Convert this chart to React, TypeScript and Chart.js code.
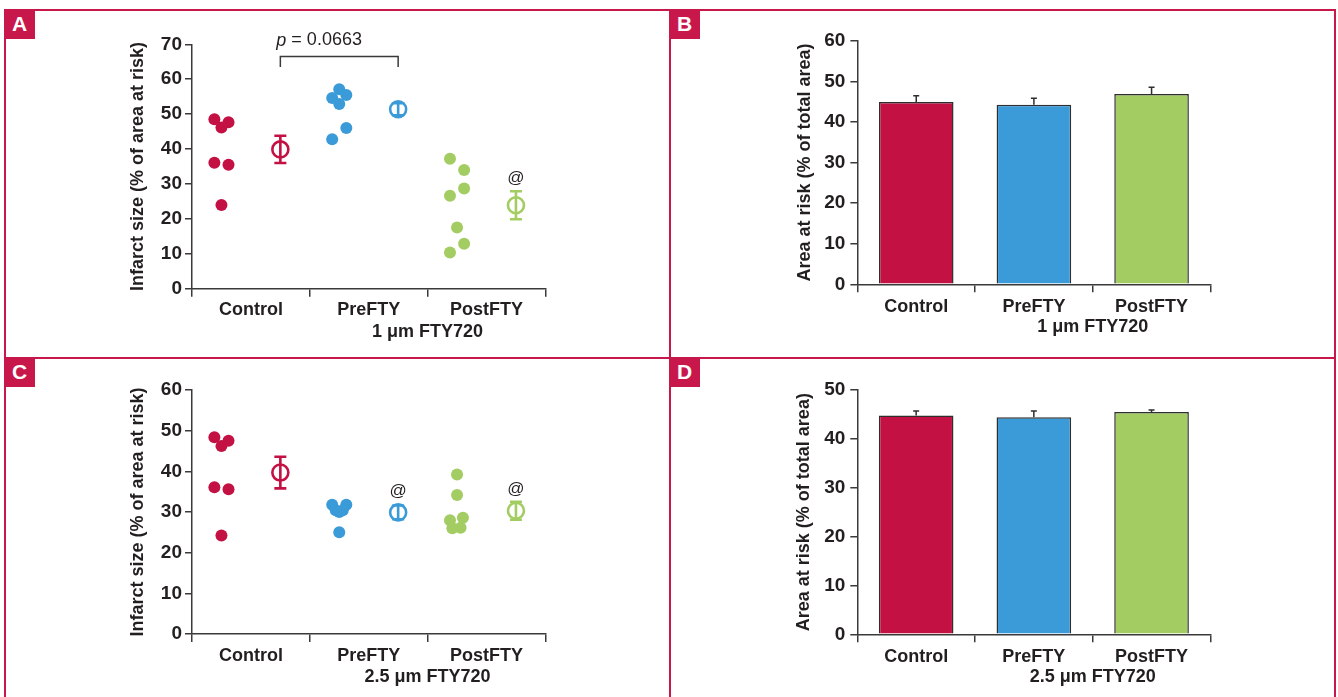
import React, { useEffect, useRef } from 'react';
import { Chart, registerables } from 'chart.js';

Chart.register(...registerables);

const FONT = "'Liberation Sans', Arial, Helvetica, sans-serif";
const TEXT = '#231f20';
const AXIS = '#3a3a3a';
const FRAME = '#c8174a';

const categories = ['Control', 'PreFTY', 'PostFTY'];
const groupColors = ['#c41144', '#3a9bd8', '#a3cd62'];
const meanX = [0.75, 1.75, 2.75];

// Panel A: 1 µm FTY720 – infarct size, individual hearts
const aControlY = [48.5, 47.7, 46.2, 36.1, 35.5, 24.0];
const aControlX = [0.19, 0.31, 0.25, 0.19, 0.31, 0.25];
const aPreY = [57.1, 54.6, 55.5, 52.9, 46.0, 42.8];
const aPreX = [1.25, 1.19, 1.31, 1.25, 1.31, 1.19];
const aPostY = [37.2, 34.0, 28.7, 26.6, 17.5, 12.9, 10.4];
const aPostX = [2.19, 2.31, 2.31, 2.19, 2.25, 2.31, 2.19];
const aMeans = [39.9, 51.4, 23.9];
const aSem = [3.9, 1.7, 4.0];
const aMarks = ['', '', '@'];
const aYMax = 70;
const aSubLabel = '1 \u03bcm FTY720';
const aBracketPair = [0, 1];
const aBracketY = 66.5;
const aBracketDrop = 3;
const aPValue = '0.0663';

// Panel B: 1 µm FTY720 – area at risk
const bValues = [44.9, 44.2, 46.9];
const bErrors = [1.55, 1.6, 1.65];
const bYMax = 60;

// Panel C: 2.5 µm FTY720 – infarct size, individual hearts
const cControlY = [48.4, 47.5, 46.2, 36.1, 35.6, 24.2];
const cControlX = [0.19, 0.31, 0.25, 0.19, 0.31, 0.25];
const cPreY = [31.8, 31.8, 30.4, 30.4, 30.0, 25.0];
const cPreX = [1.19, 1.31, 1.22, 1.28, 1.25, 1.25];
const cPostY = [39.2, 34.2, 28.0, 28.6, 26.0, 26.1];
const cPostX = [2.25, 2.25, 2.19, 2.30, 2.21, 2.28];
const cMeans = [39.7, 29.9, 30.3];
const cSem = [3.9, 1.7, 2.2];
const cMarks = ['', '@', '@'];
const cYMax = 60;
const cSubLabel = '2.5 \u03bcm FTY720';

// Panel D: 2.5 µm FTY720 – area at risk
const dValues = [44.8, 44.4, 45.5];
const dErrors = [0.9, 1.3, 0.4];
const dYMax = 50;

const yTitleInfarct = 'Infarct size (% of area at risk)';
const yTitleArea = 'Area at risk (% of total area)';

const boldFont = (size = 18) => ({ family: FONT, size, weight: 'bold' as any });

function yScale(yMax: number, title: string, L: any, tickPad: number) {
  return {
    type: 'linear',
    min: 0,
    max: yMax,
    ticks: { stepSize: 10, padding: tickPad, color: TEXT, font: boldFont(19) },
    grid: { drawOnChartArea: false, drawTicks: true, tickLength: 7, lineWidth: 1.5, color: AXIS },
    border: { display: true, color: AXIS, width: 1.5 },
    title: {
      display: true,
      text: title,
      color: TEXT,
      font: boldFont(18),
      padding: { top: L.titleCenter - 10.8, bottom: 0 },
    },
    afterFit: (s: any) => {
      s.width = L.yWidth;
    },
  };
}

function subLabelPlugin(text: string, value: number) {
  return {
    id: 'subLabel',
    afterDraw(chart: any) {
      const { ctx, chartArea } = chart;
      const x = chart.scales.x.getPixelForValue(value);
      ctx.save();
      ctx.fillStyle = TEXT;
      ctx.font = `bold 18px ${FONT}`;
      ctx.textAlign = 'center';
      ctx.textBaseline = 'middle';
      ctx.fillText(text, x, chartArea.bottom + 43);
      ctx.restore();
    },
  };
}

function makeScatter(spec: any) {
  const datasets: any[] = spec.ys.map((ys: number[], g: number) => ({
    data: ys.map((y, i) => ({ x: spec.xs[g][i], y })),
    pointBackgroundColor: groupColors[g],
    pointBorderColor: groupColors[g],
    pointBorderWidth: 0,
    pointRadius: 6,
    pointHoverRadius: 6,
    showLine: false,
  }));
  datasets.push({
    data: spec.means.map((m: number, i: number) => ({ x: meanX[i], y: m })),
    pointBackgroundColor: '#ffffff',
    pointBorderColor: groupColors,
    pointBorderWidth: 2.6,
    pointRadius: 8,
    pointHoverRadius: 8,
    showLine: false,
  });
  const L = spec.layout;
  const overlay = {
    id: 'overlay',
    afterDatasetsDraw(chart: any) {
      const { ctx } = chart;
      const xs = chart.scales.x;
      const ys = chart.scales.y;
      ctx.save();
      spec.means.forEach((m: number, i: number) => {
        const x = xs.getPixelForValue(meanX[i]);
        const yT = ys.getPixelForValue(m + spec.sem[i]);
        const yB = ys.getPixelForValue(m - spec.sem[i]);
        ctx.strokeStyle = groupColors[i];
        ctx.lineWidth = 2.6;
        ctx.beginPath();
        ctx.moveTo(x, yT);
        ctx.lineTo(x, yB);
        ctx.moveTo(x - 6, yT);
        ctx.lineTo(x + 6, yT);
        ctx.moveTo(x - 6, yB);
        ctx.lineTo(x + 6, yB);
        ctx.stroke();
        if (spec.marks[i]) {
          const yc = Math.min(yT, ys.getPixelForValue(m) - 8) - 13;
          ctx.fillStyle = TEXT;
          ctx.font = `17px ${FONT}`;
          ctx.textAlign = 'center';
          ctx.textBaseline = 'middle';
          ctx.fillText(spec.marks[i], x, yc);
        }
      });
      if (spec.bracket) {
        const b = spec.bracket;
        const x1 = xs.getPixelForValue(meanX[b.pair[0]]);
        const x2 = xs.getPixelForValue(meanX[b.pair[1]]);
        const yl = ys.getPixelForValue(b.y);
        const yd = ys.getPixelForValue(b.y - b.drop);
        ctx.strokeStyle = AXIS;
        ctx.lineWidth = 1.5;
        ctx.beginPath();
        ctx.moveTo(x1, yd);
        ctx.lineTo(x1, yl);
        ctx.lineTo(x2, yl);
        ctx.lineTo(x2, yd);
        ctx.stroke();
        ctx.fillStyle = TEXT;
        ctx.textAlign = 'left';
        ctx.textBaseline = 'middle';
        const tx = x1 - 4;
        const ty = yl - 16;
        ctx.font = `italic 18px ${FONT}`;
        ctx.fillText('p', tx, ty);
        const w = ctx.measureText('p').width;
        ctx.font = `18px ${FONT}`;
        ctx.fillText(' = ' + b.p, tx + w, ty);
      }
      ctx.restore();
    },
  };
  return {
    type: 'scatter',
    data: { datasets },
    options: {
      responsive: false,
      animation: false,
      events: [],
      layout: { padding: { left: 0, top: L.top, right: L.right, bottom: 0 } },
      plugins: { legend: { display: false }, tooltip: { enabled: false } },
      scales: {
        x: {
          type: 'linear',
          min: 0,
          max: 3,
          ticks: {
            stepSize: 0.5,
            autoSkip: false,
            maxRotation: 0,
            minRotation: 0,
            padding: 3,
            color: TEXT,
            font: boldFont(18),
            callback: (v: number) => (v % 1 === 0.5 ? categories[Math.floor(v)] : ''),
          },
          grid: {
            drawOnChartArea: false,
            drawTicks: true,
            tickLength: 8,
            lineWidth: 1.5,
            color: (c: any) => (c.tick && c.tick.value % 1 !== 0 ? 'rgba(0,0,0,0)' : AXIS),
            tickColor: (c: any) => (c.tick && c.tick.value % 1 !== 0 ? 'rgba(0,0,0,0)' : AXIS),
          },
          border: { display: true, color: AXIS, width: 1.5 },
          afterFit: (s: any) => {
            s.height = L.xHeight;
          },
        },
        y: yScale(spec.yMax, yTitleInfarct, L, 3),
      },
    },
    plugins: [overlay, subLabelPlugin(spec.sub, 2)],
  };
}

function makeBar(spec: any) {
  const L = spec.layout;
  const errPlugin = {
    id: 'errBars',
    afterDatasetsDraw(chart: any) {
      const { ctx } = chart;
      const ys = chart.scales.y;
      const meta = chart.getDatasetMeta(0);
      ctx.save();
      ctx.strokeStyle = '#2e2e2e';
      ctx.lineWidth = 1.5;
      spec.values.forEach((v: number, i: number) => {
        const x = meta.data[i].x;
        const y0 = ys.getPixelForValue(v);
        const y1 = ys.getPixelForValue(v + spec.errors[i]);
        ctx.beginPath();
        ctx.moveTo(x, y0);
        ctx.lineTo(x, y1);
        ctx.moveTo(x - 3, y1);
        ctx.lineTo(x + 3, y1);
        ctx.stroke();
      });
      ctx.restore();
    },
  };
  return {
    type: 'bar',
    data: {
      labels: categories,
      datasets: [
        {
          data: spec.values,
          backgroundColor: groupColors,
          borderColor: '#2e2e2e',
          borderWidth: 1.5,
          categoryPercentage: 1,
          barPercentage: 0.634,
        },
      ],
    },
    options: {
      responsive: false,
      animation: false,
      events: [],
      layout: { padding: { left: 0, top: L.top, right: L.right, bottom: 0 } },
      plugins: { legend: { display: false }, tooltip: { enabled: false } },
      scales: {
        x: {
          type: 'category',
          offset: true,
          ticks: { autoSkip: false, maxRotation: 0, minRotation: 0, padding: 4, color: TEXT, font: boldFont(18) },
          grid: { offset: true, drawOnChartArea: false, drawTicks: true, tickLength: 8, lineWidth: 1.5, color: AXIS },
          border: { display: true, color: AXIS, width: 1.5 },
          afterFit: (s: any) => {
            s.height = L.xHeight;
          },
        },
        y: yScale(spec.yMax, yTitleArea, L, 5),
      },
    },
    plugins: [errPlugin, subLabelPlugin(spec.sub, 1.5)],
  };
}

function ChartCanvas({ left, top, width, height, config }: any) {
  const ref = useRef<HTMLCanvasElement>(null);
  useEffect(() => {
    const chart = new Chart(ref.current as HTMLCanvasElement, config());
    return () => chart.destroy();
  }, []);
  return (
    <canvas
      ref={ref}
      width={width}
      height={height}
      style={{ position: 'absolute', left, top, width, height, display: 'block' }}
    />
  );
}

function Line({ l, t, w, h }: any) {
  return <div style={{ position: 'absolute', left: l, top: t, width: w, height: h, background: FRAME }} />;
}

function Tag({ l, t, text }: any) {
  return (
    <div
      style={{
        position: 'absolute',
        left: l,
        top: t,
        width: 31,
        height: 30,
        background: FRAME,
        color: '#ffffff',
        fontFamily: FONT,
        fontWeight: 'bold',
        fontSize: 21,
        lineHeight: '30px',
        textAlign: 'center',
        zIndex: 3,
      }}
    >
      {text}
    </div>
  );
}

export default function App() {
  const specA = {
    xs: [aControlX, aPreX, aPostX],
    ys: [aControlY, aPreY, aPostY],
    means: aMeans,
    sem: aSem,
    marks: aMarks,
    yMax: aYMax,
    sub: aSubLabel,
    bracket: { pair: aBracketPair, y: aBracketY, drop: aBracketDrop, p: aPValue },
    layout: { top: 34.3, right: 124.6, yWidth: 188, xHeight: 69.3, titleCenter: 134 },
  };
  const specC = {
    xs: [cControlX, cPreX, cPostX],
    ys: [cControlY, cPreY, cPostY],
    means: cMeans,
    sem: cSem,
    marks: cMarks,
    yMax: cYMax,
    sub: cSubLabel,
    layout: { top: 32, right: 124.6, yWidth: 188, xHeight: 63, titleCenter: 134 },
  };
  const specB = {
    values: bValues,
    errors: bErrors,
    yMax: bYMax,
    sub: aSubLabel,
    layout: { top: 30.7, right: 125.6, yWidth: 187.4, xHeight: 73.7, titleCenter: 134.7 },
  };
  const specD = {
    values: dValues,
    errors: dErrors,
    yMax: dYMax,
    sub: cSubLabel,
    layout: { top: 32, right: 125.6, yWidth: 187.3, xHeight: 62.7, titleCenter: 134.2 },
  };
  return (
    <div
      style={{
        position: 'absolute',
        left: 0,
        top: 0,
        width: 1338,
        height: 697,
        background: '#ffffff',
        overflow: 'hidden',
      }}
    >
      <ChartCanvas left={4} top={10} width={666} height={348} config={() => makeScatter(specA)} />
      <ChartCanvas left={670} top={10} width={666} height={348} config={() => makeBar(specB)} />
      <ChartCanvas left={4} top={358} width={666} height={339} config={() => makeScatter(specC)} />
      <ChartCanvas left={670} top={358} width={666} height={339} config={() => makeBar(specD)} />
      <Line l={4} t={9} w={1332} h={2} />
      <Line l={4} t={9} w={2} h={700} />
      <Line l={1334} t={9} w={2} h={700} />
      <Line l={669} t={9} w={2} h={700} />
      <Line l={4} t={357} w={1332} h={2} />
      <Tag l={4} t={9} text="A" />
      <Tag l={669} t={9} text="B" />
      <Tag l={4} t={357} text="C" />
      <Tag l={669} t={357} text="D" />
    </div>
  );
}
